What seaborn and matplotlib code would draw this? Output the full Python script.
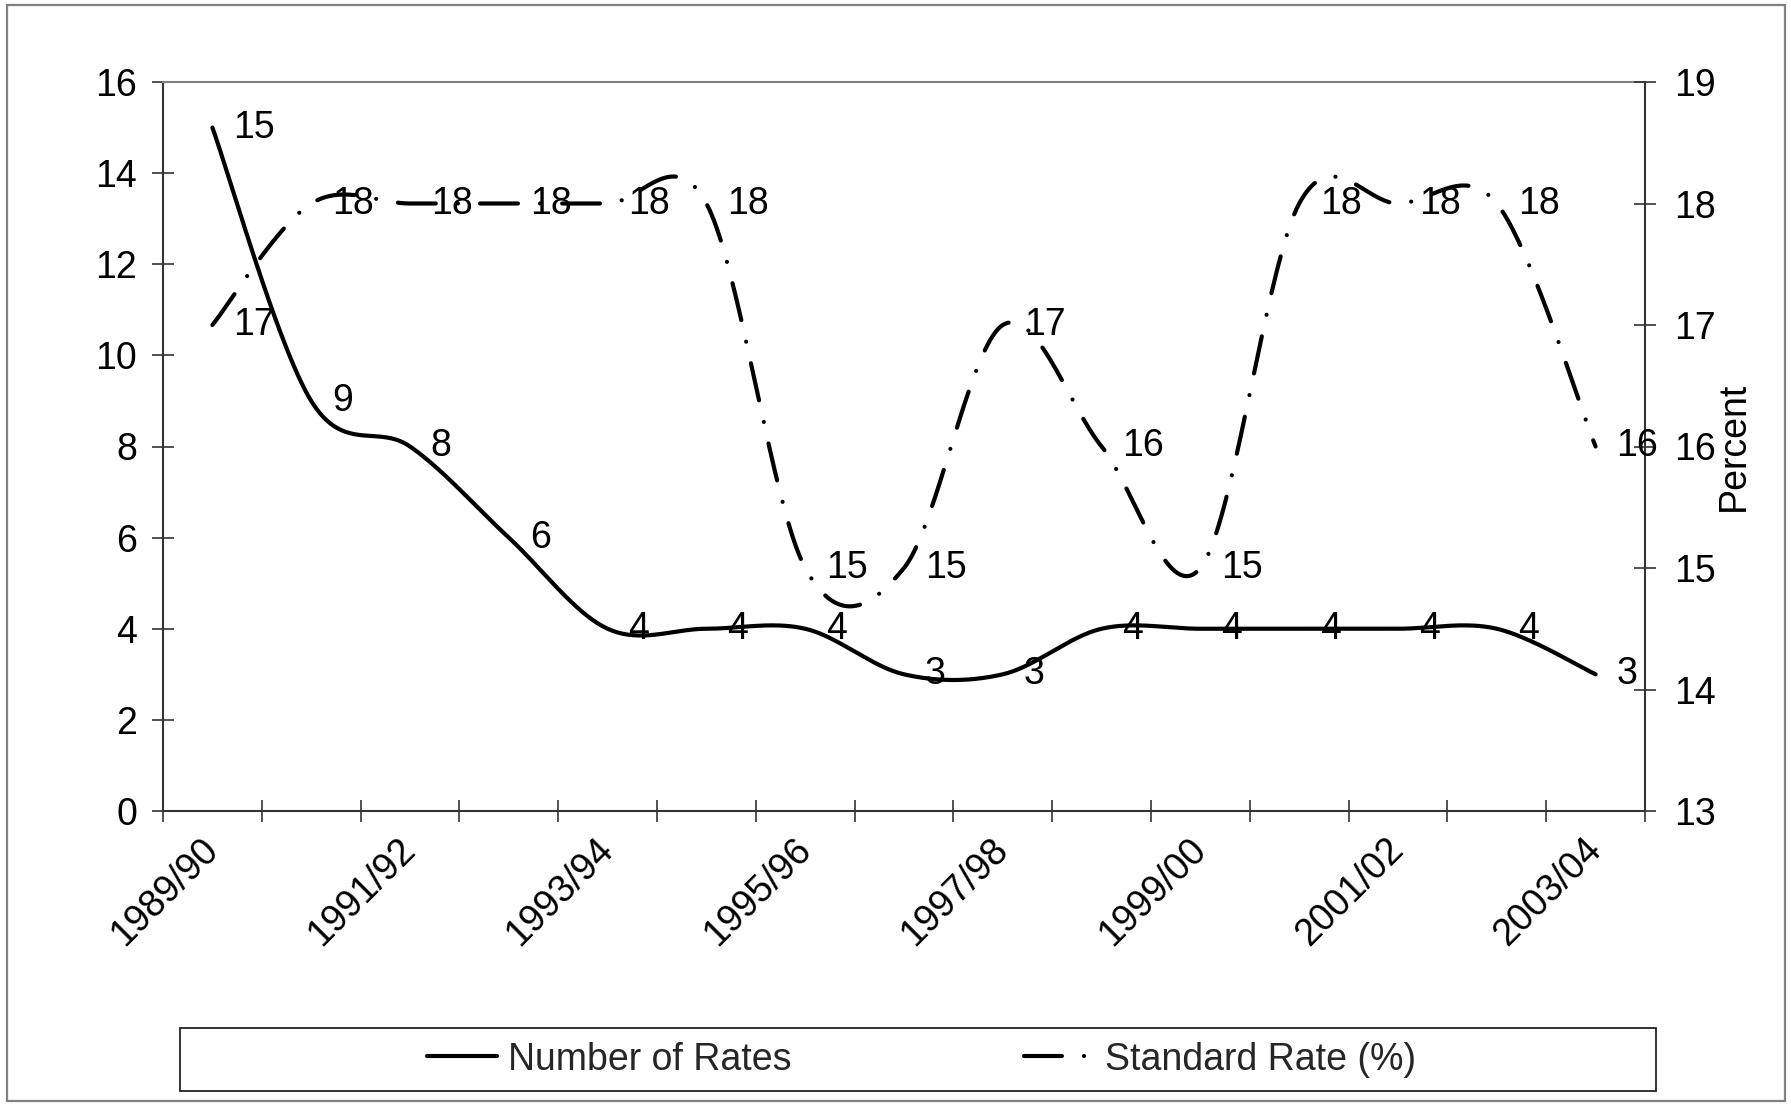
import numpy as np
import matplotlib
matplotlib.use("Agg")
import matplotlib.pyplot as plt
from matplotlib.lines import Line2D
from matplotlib.patches import Rectangle
import seaborn as sns

# ---------------- data ----------------
years = ["1989/90", "1990/91", "1991/92", "1992/93", "1993/94", "1994/95",
         "1995/96", "1996/97", "1997/98", "1998/99", "1999/00", "2000/01",
         "2001/02", "2002/03", "2003/04"]
number_of_rates = [15, 9, 8, 6, 4, 4, 4, 3, 3, 4, 4, 4, 4, 4, 3]
standard_rate = [17, 18, 18, 18, 18, 18, 15, 15, 17, 16, 15, 18, 18, 18, 16]
left_ticks = [0, 2, 4, 6, 8, 10, 12, 14, 16]
right_ticks = [13, 14, 15, 16, 17, 18, 19]
shown_year_labels = years[::2]
series_names = ["Number of Rates", "Standard Rate (%)"]

FS = 27
DASHDOT = (0, (9.1, 5.3, 0.01, 5.3))


def smooth_curve(values, n=40):
    """Excel-like smoothed line (Catmull-Rom Bezier) through the data points."""
    y = np.asarray(values, float)
    x = np.arange(len(y), dtype=float)
    P = np.column_stack([x, y])
    Pe = np.vstack([P[0], P, P[-1]])
    t = np.linspace(0, 1, n)[:, None]
    parts = []
    for i in range(len(P) - 1):
        p0, p1, p2, p3 = Pe[i], Pe[i + 1], Pe[i + 2], Pe[i + 3]
        b0, b1, b2, b3 = p1, p1 + (p2 - p0) / 6, p2 - (p3 - p1) / 6, p2
        seg = ((1 - t) ** 3) * b0 + 3 * ((1 - t) ** 2) * t * b1 \
            + 3 * (1 - t) * (t ** 2) * b2 + (t ** 3) * b3
        parts.append(seg if i == 0 else seg[1:])
    arr = np.vstack(parts)
    return arr[:, 0], arr[:, 1]


sns.set_theme(style="white")
plt.rcParams["font.family"] = ["Liberation Sans", "DejaVu Sans"]

W, H = 1791, 1104
fig = plt.figure(figsize=(W / 100, H / 100), dpi=100)
L, R, T, B = 163, 1645, 82, 811
ax = fig.add_axes([L / W, 1 - B / H, (R - L) / W, (B - T) / H])
ax2 = ax.twinx()

# figure border
fig.patches.append(Rectangle((7 / W, 1 - 1101 / H), (1785 - 7) / W, (1101 - 5) / H,
                             transform=fig.transFigure, fill=False,
                             edgecolor="#808080", linewidth=1.6))

# lines
xs, ys = smooth_curve(number_of_rates)
sns.lineplot(x=xs, y=ys, ax=ax, color="black", linewidth=3, estimator=None,
             sort=False, legend=False, solid_capstyle="round")
xs2, ys2 = smooth_curve(standard_rate)
sns.lineplot(x=xs2, y=ys2, ax=ax2, color="black", linewidth=3, estimator=None,
             sort=False, legend=False, linestyle=DASHDOT, dash_capstyle="round")

# data labels
for i, v in enumerate(number_of_rates):
    ax.annotate(str(v), (i, v), xytext=(15, 0), textcoords="offset points",
                ha="left", va="center", fontsize=FS, color="black")
for i, v in enumerate(standard_rate):
    ax2.annotate(str(v), (i, v), xytext=(15, 0), textcoords="offset points",
                 ha="left", va="center", fontsize=FS, color="black")

# axes limits / ticks
ax.set_xlim(-0.5, len(years) - 0.5)
ax.set_ylim(0, 16)
ax2.set_ylim(13, 19)
ax.set_yticks(left_ticks)
ax.set_yticklabels([str(v) for v in left_ticks])
ax2.set_yticks(right_ticks)
ax2.set_yticklabels([str(v) for v in right_ticks])

ax.set_xticks(np.arange(-0.5, len(years), 1.0))
ax.set_xticklabels([])
ax.set_xticks(np.arange(0, len(years), 2), minor=True)
ax.set_xticklabels(shown_year_labels, minor=True, rotation=45, ha="right",
                   va="center", rotation_mode="anchor", fontsize=FS)

ax.tick_params(axis="x", which="major", bottom=True, direction="inout",
               length=16, width=1.2, color="#333333", labelbottom=False)
ax.tick_params(axis="x", which="minor", bottom=True, length=0, pad=24,
               labelsize=FS, labelcolor="black")
ax.tick_params(axis="y", left=True, direction="inout", length=16, width=1.2,
               color="#333333", pad=10.5, labelsize=FS, labelcolor="black")
ax2.tick_params(axis="y", right=True, direction="inout", length=16, width=1.2,
                color="#333333", pad=13, labelsize=FS, labelcolor="black")

ax.set_xlabel("")
ax.set_ylabel("")
ax2.set_ylabel("Percent", fontsize=FS, color="black")
ax2.yaxis.set_label_coords(1.048, 0.5)

# spines
for a in (ax, ax2):
    for s in a.spines.values():
        s.set_visible(False)
ax.spines["left"].set_visible(True)
ax.spines["bottom"].set_visible(True)
ax.spines["top"].set_visible(True)
ax2.spines["right"].set_visible(True)
for sp in (ax.spines["left"], ax.spines["bottom"], ax2.spines["right"]):
    sp.set_color("#333333")
    sp.set_linewidth(1.5)
ax.spines["top"].set_color("#808080")
ax.spines["top"].set_linewidth(1.5)
ax.grid(False)
ax2.grid(False)

# legend
handles = [Line2D([0], [0], color="black", linewidth=3),
           Line2D([0], [0], color="black", linewidth=3, linestyle=DASHDOT,
                  dash_capstyle="round")]
lx0, lx1, ly0, ly1 = 180, 1656, 1028, 1091
fig.patches.append(Rectangle((lx0 / W, 1 - ly1 / H), (lx1 - lx0) / W, (ly1 - ly0) / H,
                             transform=fig.transFigure, fill=False,
                             edgecolor="#222222", linewidth=1.3))
fig.legend(handles, series_names, loc="center",
           bbox_to_anchor=((lx0 + lx1) / 2 / W + 0.002, 1 - (ly0 + ly1) / 2 / H),
           ncol=2, frameon=False, fontsize=FS, handlelength=1.85,
           handletextpad=0.3, columnspacing=6.2, borderpad=0.2)

fig.savefig("out.png", dpi=100)
